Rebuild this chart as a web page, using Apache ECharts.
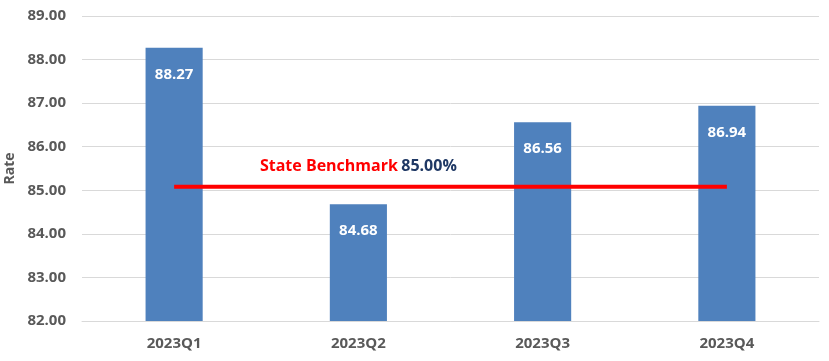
<!DOCTYPE html>
<html>
<head>
<meta charset="utf-8">
<script src="https://cdn.jsdelivr.net/npm/echarts@6/dist/echarts.min.js"></script>
<style>html,body{margin:0;padding:0;background:#fff}#c{width:829px;height:361px}</style>
</head>
<body>
<div id="c"></div>
<script>
const categories = ['2023Q1', '2023Q2', '2023Q3', '2023Q4'];
const rates = [88.27, 84.68, 86.56, 86.94];
const benchmarkLine = [85.08, 85.08, 85.08, 85.08];
const benchmarkName = 'State Benchmark';
const benchmarkText = '85.00%';
const yTicks = { min: 82, max: 89, interval: 1 };

const chart = echarts.init(document.getElementById('c'));
const font = "Open Sans, Liberation Sans, sans-serif";
chart.setOption({
  animation: false,
  grid: { left: 82, right: 10, top: 16, bottom: 40, containLabel: false, outerBoundsMode: 'none' },
  xAxis: {
    type: 'category',
    data: categories,
    axisLine: { show: true, lineStyle: { color: '#d9d9d9' } },
    axisTick: { show: false },
    axisLabel: { color: '#595959', fontWeight: 'bold', fontSize: 15, fontFamily: font, margin: 15 }
  },
  yAxis: {
    type: 'value',
    min: yTicks.min, max: yTicks.max, interval: yTicks.interval,
    name: 'Rate',
    nameLocation: 'middle',
    nameGap: 61,
    nameTextStyle: { color: '#595959', fontWeight: 'bold', fontSize: 14, fontFamily: font },
    axisLine: { show: false },
    axisTick: { show: false },
    splitLine: { lineStyle: { color: '#d9d9d9', width: 1 } },
    axisLabel: { color: '#595959', fontWeight: 'bold', fontSize: 15, fontFamily: font, margin: 16,
      formatter: v => v.toFixed(2) }
  },
  series: [
    {
      type: 'bar',
      data: rates,
      barWidth: '31%',
      itemStyle: { color: '#4f81bd' },
      label: { show: true, position: 'insideTop', distance: 19, color: '#fff', fontWeight: 'bold',
        fontSize: 15, fontFamily: font, formatter: p => p.value.toFixed(2) }
    },
    {
      type: 'line',
      data: benchmarkLine.map((v, i) => i === 1 ? {
        value: v,
        label: {
          show: true,
          position: 'top',
          distance: 12,
          formatter: '{a|' + benchmarkName + '} {b|' + benchmarkText + '}',
          rich: {
            a: { color: '#ff0000', fontWeight: 'bold', fontSize: 16, fontFamily: font },
            b: { color: '#1f3864', fontWeight: 'bold', fontSize: 16, fontFamily: font }
          }
        }
      } : v),
      symbol: 'circle',
      symbolSize: 1,
      showSymbol: true,
      itemStyle: { color: 'rgba(0,0,0,0)' },
      label: { show: false },
      lineStyle: { color: '#ff0000', width: 4 },
      z: 5
    }
  ]
});
</script>
</body>
</html>
